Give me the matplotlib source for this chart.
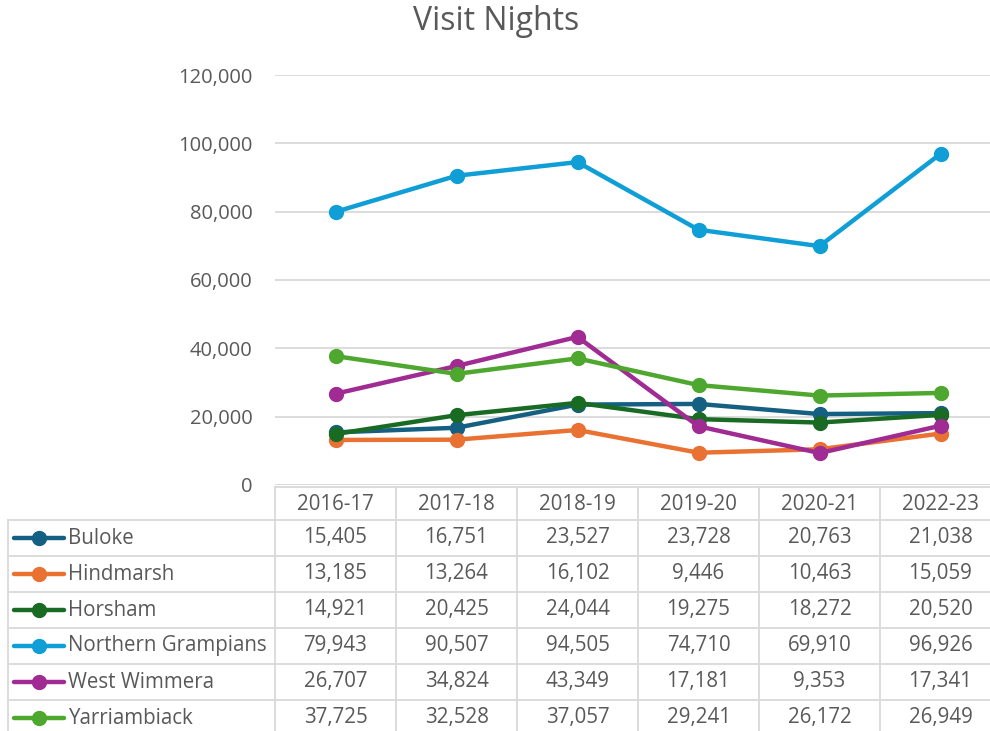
import matplotlib.pyplot as plt
from matplotlib.ticker import FuncFormatter

plt.rcParams['font.family'] = ['Open Sans', 'DejaVu Sans']

# data
jahre = ["2016-17", "2017-18", "2018-19", "2019-20", "2020-21", "2022-23"]
regionen = ["Buloke", "Hindmarsh", "Horsham", "Northern Grampians", "West Wimmera", "Yarriambiack"]
buloke = [15405, 16751, 23527, 23728, 20763, 21038]
hindmarsh = [13185, 13264, 16102, 9446, 10463, 15059]
horsham = [14921, 20425, 24044, 19275, 18272, 20520]
northernGrampians = [79943, 90507, 94505, 74710, 69910, 96926]
westWimmera = [26707, 34824, 43349, 17181, 9353, 17341]
yarriambiack = [37725, 32528, 37057, 29241, 26172, 26949]
werte = [buloke, hindmarsh, horsham, northernGrampians, westWimmera, yarriambiack]
farben = ["#156082", "#E97132", "#196B24", "#0F9ED5", "#A02B93", "#4EA72E"]

textFarbe = "#595959"
gitterFarbe = "#D9D9D9"
schrift = 14.8

W, H = 990, 731
fig = plt.figure(figsize=(W / 100, H / 100), dpi=100)

# pixel layout
plotLinks, plotRechts = 275, 990
plotOben, plotUnten = 75, 485
spalte = 121

ax = fig.add_axes([plotLinks / W, 1 - plotUnten / H, (plotRechts - plotLinks) / W, (plotUnten - plotOben) / H])
x = [i + 0.5 for i in range(len(jahre))]
for name, y, c in zip(regionen, werte, farben):
    ax.plot(x, y, color=c, lw=3.2, marker="o", ms=10, solid_capstyle="round", label=name)

ax.set_xlim(0, (plotRechts - plotLinks) / spalte)
ax.set_ylim(0, 120000)
ax.set_yticks(range(0, 120001, 20000))
ax.yaxis.set_major_formatter(FuncFormatter(lambda v, p: "{:,.0f}".format(v)))
ax.tick_params(axis="y", length=0, pad=16, labelsize=14.5, labelcolor=textFarbe)
ax.set_xticks([])
ax.grid(axis="y", color=gitterFarbe, lw=1.3)
ax.set_axisbelow(True)
for s in ax.spines.values():
    s.set_visible(False)

fig.text(496 / W, 1 - 22 / H, "Visit Nights", ha="center", va="center", fontsize=23, color=textFarbe)

# Tabelle in Pixelkoordinaten
tab = fig.add_axes([0, 0, 1, 1], facecolor="none")
tab.set_xlim(0, W)
tab.set_ylim(H, 0)
tab.axis("off")

kopfOben = 487
zeileOben = 520
zeile = 36
links = 8
rechts = plotLinks + spalte * len(jahre)

tab.plot([plotLinks, rechts], [kopfOben, kopfOben], color=gitterFarbe, lw=1.3)
for k in range(len(regionen) + 1):
    yy = zeileOben + zeile * k
    tab.plot([links, rechts], [yy, yy], color=gitterFarbe, lw=1.3)
tab.plot([links, links], [zeileOben, H + 10], color=gitterFarbe, lw=1.3)
for j in range(len(jahre) + 1):
    xx = plotLinks + spalte * j
    tab.plot([xx, xx], [kopfOben, H + 10], color=gitterFarbe, lw=1.3)

for j, jahr in enumerate(jahre):
    tab.text(plotLinks + spalte * (j + 0.5), (kopfOben + zeileOben) / 2 + 1, jahr,
             ha="center", va="center", fontsize=schrift, color=textFarbe)

for k, (name, y, c) in enumerate(zip(regionen, werte, farben)):
    ym = zeileOben + zeile * (k + 0.5)
    tab.plot([14, 64], [ym, ym], color=c, lw=3.2, solid_capstyle="round")
    tab.plot([39], [ym], marker="o", ms=10, color=c)
    tab.text(68, ym, name, ha="left", va="center", fontsize=schrift, color=textFarbe)
    for j, v in enumerate(y):
        tab.text(plotLinks + spalte * (j + 0.5), ym, "{:,}".format(v),
                 ha="center", va="center", fontsize=schrift, color=textFarbe)

fig.savefig("out.png", dpi=100)
